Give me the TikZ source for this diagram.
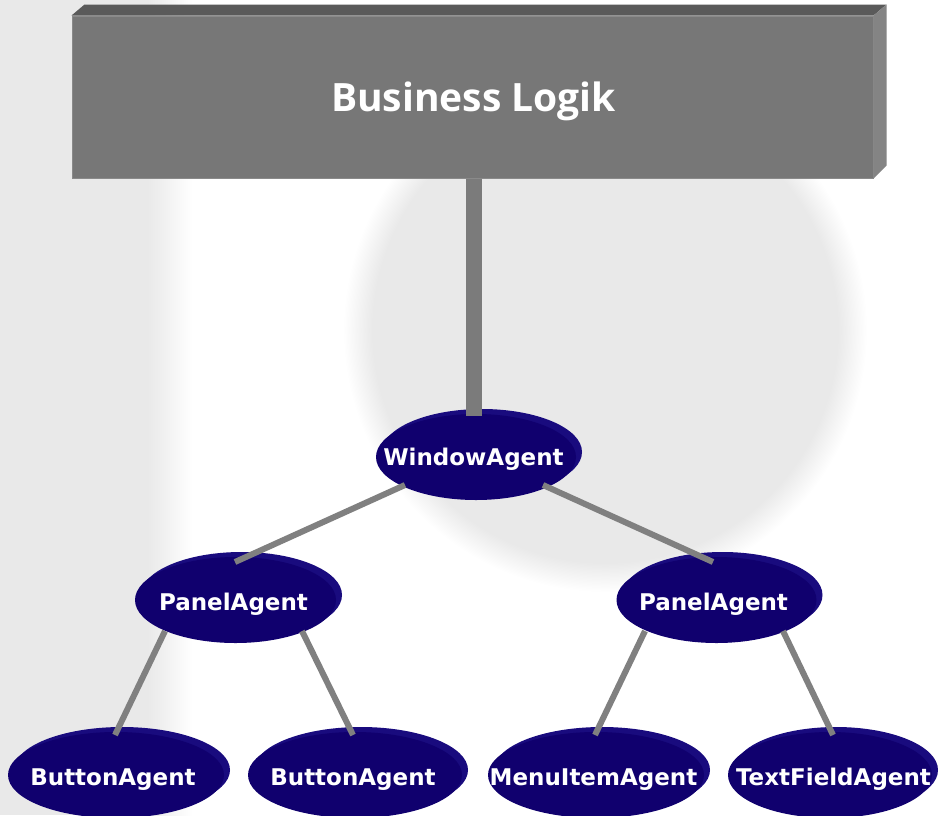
\documentclass[tikz,border=0pt]{standalone}
\usepackage{fontspec}
\usetikzlibrary{shapes.geometric,calc,shadows}
\newfontfamily\titlefont{Open Sans}
\newfontfamily\agentfont{DejaVu Sans}
\definecolor{wm}{HTML}{E9E9E9}
\definecolor{boxtop}{HTML}{5A5A5A}
\definecolor{boxfront}{HTML}{777777}
\definecolor{boxside}{HTML}{848484}
\definecolor{boxedge}{HTML}{8A8A8A}
\definecolor{bargray}{HTML}{7B7B7B}
\definecolor{linkgray}{HTML}{808080}
\definecolor{agentfront}{HTML}{10006E}
\definecolor{agentside}{HTML}{190B7E}
% soft-edged disc for the background watermark
\pgfdeclareradialshading{softdisc}{\pgfpoint{0bp}{0bp}}{color(0bp)=(wm); color(22.2bp)=(wm); color(25bp)=(white); color(50bp)=(white)}

\begin{document}
\begin{tikzpicture}[x=1pt,y=-1pt,
  agent/.style={ellipse, fill=agentfront, inner sep=0pt,
    minimum width=#1, minimum height=86pt,
    copy shadow={shadow xshift=6pt, shadow yshift=5pt, fill=agentside, draw=none, opacity=1}},
  agent/.default=200pt,
  agentlabel/.style={anchor=base, text=white, inner sep=0pt,
    font=\agentfont\bfseries\fontsize{23}{23}\selectfont},
  connector/.style={draw=linkgray, line width=6pt},
  bar/.style={draw=bargray, line width=16pt},
]
\useasboundingbox (0,0) rectangle (939,815);

% background
\fill[white] (0,0) rectangle (939,815);
\fill[wm] (0,0) rectangle (148,815);
\shade[left color=wm, right color=white] (148,0) rectangle (192,815);
\shade[shading=softdisc] (605,330) circle (262);

% business logic block
\node[draw=boxedge, fill=boxfront, line width=1pt, inner sep=0pt,
      minimum width=801pt, minimum height=162pt] (logic) at (472.5,97) {};
\fill[boxtop] (logic.north west) -- ++(13,-11)
  -- ($(logic.north east)+(13,-11)$) -- (logic.north east) -- cycle;
\fill[boxside] (logic.north east) -- ++(13,-11)
  -- ($(logic.south east)+(13,-13)$) -- (logic.south east) -- cycle;
\node[anchor=base, text=white, inner sep=0pt,
      font=\titlefont\bfseries\fontsize{39}{39}\selectfont]
  (title) at ($(logic.center)+(1,14)$) {Business Logik};

% agent tree
\node[agent=200pt] (win) at (476,457) {};
\node[agent=201pt] (pl) at (235.5,600) {};
\node[agent=200pt] (pr) at (716.5,600) {};
\node[agent=216pt] (b1) at (116,775) {};
\node[agent=214pt] (b2) at (355,775) {};
\node[agent=216pt] (mi) at (596,775) {};
\node[agent=204pt] (tf) at (830,775) {};

% connections
\coordinate (barend) at ($(win.center)+(-2,-41)$);
\draw[bar] (barend |- logic.south) -- (barend);
\draw[connector] ($(win.center)+(-71,28)$) -- ($(pl.center)+(-0.5,-38)$);
\draw[connector] ($(win.center)+(67,28)$) -- ($(pr.center)+(-3.5,-38)$);
\draw[connector] ($(pl.center)+(-70.5,31)$) -- ($(b1.center)+(-1,-40)$);
\draw[connector] ($(pl.center)+(66.5,31)$) -- ($(b2.center)+(-2,-40)$);
\draw[connector] ($(pr.center)+(-71.5,31)$) -- ($(mi.center)+(-1,-40)$);
\draw[connector] ($(pr.center)+(66.5,31)$) -- ($(tf.center)+(3,-40)$);

% labels
\node[agentlabel] (win-t) at ($(win.center)+(-2.5,8)$) {WindowAgent};
\node[agentlabel] (pl-t) at ($(pl.center)+(-2,10)$) {PanelAgent};
\node[agentlabel] (pr-t) at ($(pr.center)+(-3,10)$) {PanelAgent};
\node[agentlabel] (b1-t) at ($(b1.center)+(-3,10)$) {ButtonAgent};
\node[agentlabel] (b2-t) at ($(b2.center)+(-2,10)$) {ButtonAgent};
\node[agentlabel] (mi-t) at ($(mi.center)+(-2.5,10)$) {MenuItemAgent};
\node[agentlabel] (tf-t) at ($(tf.center)+(3.5,10)$) {TextFieldAgent};
\end{tikzpicture}
\end{document}
